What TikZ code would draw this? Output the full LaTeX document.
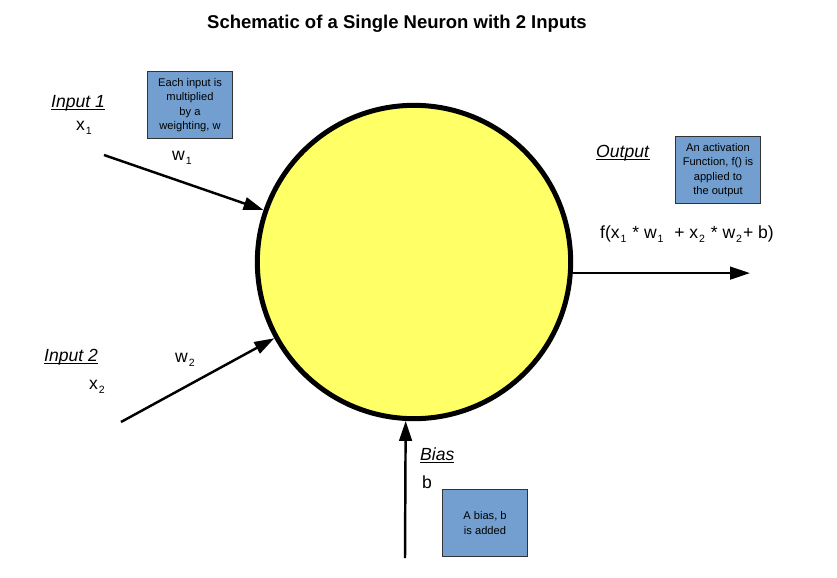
\documentclass[tikz,border=0pt]{standalone}
\usepackage{fontspec}
\setmainfont{Liberation Sans}
\usepackage{xcolor}
\usetikzlibrary{arrows.meta, positioning}

\definecolor{boxblue}{HTML}{729FCF}
\definecolor{cellyellow}{HTML}{FFFF66}

\newcommand{\labelline}[1]{\setbox0\hbox{#1}\rlap{\rule[-2.2pt]{\wd0}{0.6pt}}\box0}
\newcommand{\lowsub}[1]{\kern0.8pt\relax\raisebox{-3.6pt}{\fontsize{9}{9}\selectfont #1}\kern0.8pt\relax}

\begin{document}
\begin{tikzpicture}[
    x=0.03cm, y=-0.03cm,
    neuron/.style={circle, draw=black, line width=0.15cm, fill=cellyellow, minimum size=9.4cm, inner sep=0pt},
    notebox/.style={rectangle, draw=black!80, line width=0.8pt, fill=boxblue, align=center, minimum width=2.55cm, minimum height=2.0cm, inner sep=1pt, font=\fontsize{9.5}{12.3}\selectfont},
    biglabel/.style={anchor=base west, inner sep=0pt, font=\fontsize{15}{18}\selectfont},
    arrow/.style={line width=2.1pt, -{Triangle[length=0.6cm, width=0.38cm]}}
]
\useasboundingbox (0,0) rectangle (837,577);

\node[font=\bfseries\fontsize{15.8}{18}\selectfont, anchor=base] (title) at (397,28) {Schematic of a Single Neuron with 2 Inputs};

\node[neuron] (cell) at (414,262) {};

% inputs
\node[biglabel] (input1) at (51,107) {\labelline{\textit{Input 1}}};
\node[biglabel] (x1) at (76,130) {x\lowsub{1}};
\node[biglabel] (w1) at (172,160) {w\lowsub{1}};
\node[notebox] (weightnote) at (190,105) {Each input is\\multiplied\\by a\\weighting, w};

\node[biglabel] (input2) at (44,361) {\labelline{\textit{Input 2}}};
\node[biglabel] (x2) at (89,389) {x\lowsub{2}};
\node[biglabel] (w2) at (175,362) {w\lowsub{2}};

% output
\node[biglabel] (output) at (596,157) {\labelline{\textit{Output}}};
\node[notebox] (activationnote) at (718,170) {An activation\\Function, f() is\\applied to\\the output};
\node[biglabel] (formula) at (600,238) {f(x\lowsub{1} * w\lowsub{1}~~+ x\lowsub{2} * w\lowsub{2}+ b)};

% bias
\node[biglabel] (bias) at (420,460) {\labelline{\textit{Bias}}};
\node[biglabel] (b) at (422,488) {b};
\node[notebox] (biasnote) at (485,523) {A bias, b\\is added};

\coordinate (in1) at (104,155);
\coordinate (in2) at (121,422);
\coordinate (biasin) at (405,558);
\coordinate (out) at (750,272);

\draw[arrow] (in1) -- (cell);
\draw[arrow] (in2) -- (cell);
\draw[arrow] (biasin) -- (cell.-93);
\draw[arrow] (cell.-4) -- (cell.-4 -| out);
\end{tikzpicture}
\end{document}
